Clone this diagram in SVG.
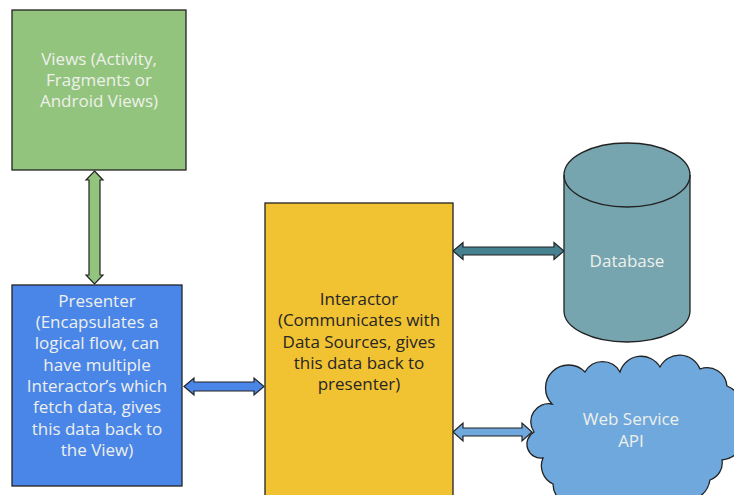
<svg xmlns="http://www.w3.org/2000/svg" width="734" height="495" viewBox="0 0 734 495">
<style>
.box{stroke:#222;stroke-width:1.3}
.arr{stroke:#222;stroke-width:1.2;stroke-linejoin:miter}
text{font-family:"Open Sans","Noto Sans","Liberation Sans",sans-serif;font-size:17px;text-anchor:middle}
.lt{fill:#eef0ec}
.dk{fill:#262626}
</style>
<rect width="734" height="495" fill="#ffffff"/>
<g id="connectors">
<polygon class="arr" fill="#93c47d" points="94.5,171 103,180 100,180 100,275 103,275 94.5,284 86,275 89,275 89,180 86,180"/>
<polygon class="arr" fill="#4a86e8" points="184,386.5 194,378 194,382 254,382 254,378 264,386.5 254,395 254,391 194,391 194,395"/>
<polygon class="arr" fill="#45818e" points="453,251 463,242.5 463,247 554,247 554,242.5 564,251 554,259.5 554,255 463,255 463,259.5"/>
<polygon class="arr" fill="#6fa8dc" points="453,432 463,423 463,428 522,428 522,423 532,432 522,441 522,436 463,436 463,441"/>
</g>
<g id="views">
<rect class="box" x="12" y="10" width="174" height="160" fill="#93c47d"/>
<text class="lt" x="99" y="65">Views (Activity,</text>
<text class="lt" x="99" y="86">Fragments or</text>
<text class="lt" x="99" y="107">Android Views)</text>
</g>
<g id="presenter">
<rect class="box" x="12" y="285" width="170" height="201" fill="#4a86e8"/>
<text class="lt" x="97" y="306.5">Presenter</text>
<text class="lt" x="97" y="328">(Encapsulates a</text>
<text class="lt" x="97" y="349.3">logical flow, can</text>
<text class="lt" x="97" y="370.6">have multiple</text>
<text class="lt" x="97" y="392">Interactor’s which</text>
<text class="lt" x="97" y="413.3">fetch data, gives</text>
<text class="lt" x="97" y="434.6">this data back to</text>
<text class="lt" x="97" y="456">the View)</text>
</g>
<g id="interactor">
<rect class="box" x="265" y="203" width="188" height="300" fill="#f1c232"/>
<text class="dk" x="359" y="305">Interactor</text>
<text class="dk" x="359" y="326.3">(Communicates with</text>
<text class="dk" x="359" y="347.6">Data Sources, gives</text>
<text class="dk" x="359" y="369">this data back to</text>
<text class="dk" x="359" y="390.3">presenter)</text>
</g>
<g id="database">
<path class="box" fill="#76a5af" d="M564,175 A63,32 0 0 1 690,175 L690,311 A63,31 0 0 1 564,311 Z"/>
<path fill="none" stroke="#222" stroke-width="1.3" d="M564,175 A63,32 0 0 0 690,175"/>
<text class="lt" x="627" y="266.5">Database</text>
</g>
<g id="webservice">
<path class="box" fill="#6fa8dc" d="M534,432 A18,18 0 0 1 552,404 A22,22 0 0 1 585,372 A20,20 0 0 1 620,372 A22,22 0 0 1 660,367 A22,22 0 0 1 700,369 A20,20 0 0 1 727,386 A22,22 0 0 1 738,418 A25,25 0 0 1 722,460 A18,18 0 0 1 710,480 A25,25 0 0 1 672,497 L590,500 A22,22 0 0 1 553,484 A20,20 0 0 1 543,458 A14,14 0 0 1 534,432 Z"/>
<text class="lt" x="631" y="425">Web Service</text>
<text class="lt" x="631" y="446.5">API</text>
</g>
</svg>
